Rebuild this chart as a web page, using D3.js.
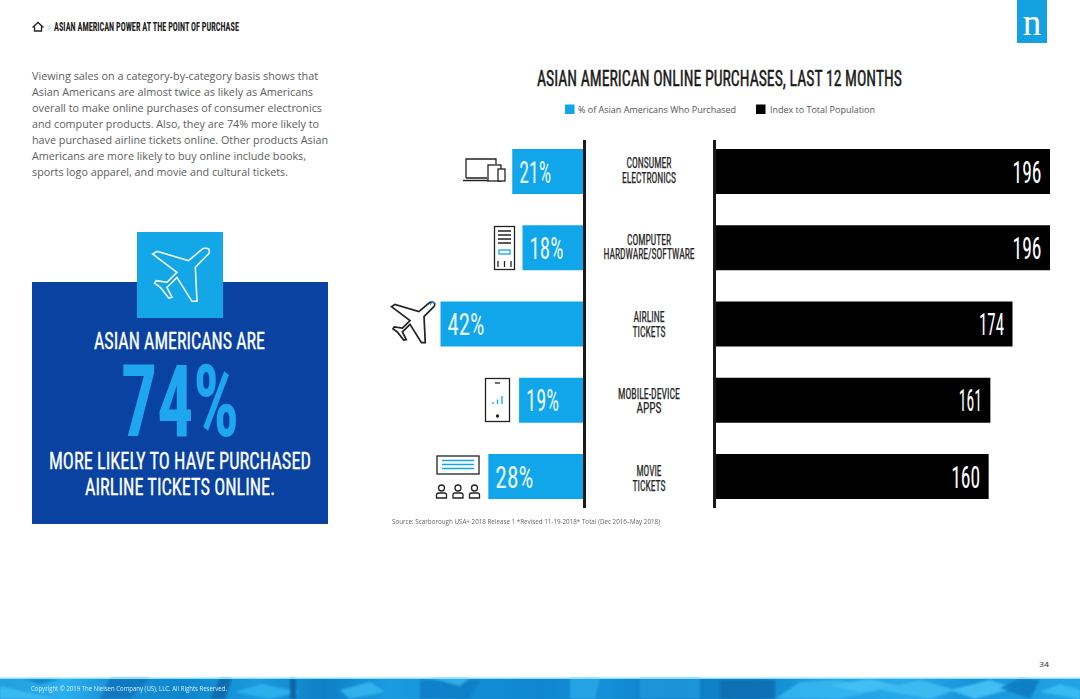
<!DOCTYPE html>
<html><head><meta charset="utf-8">
<script src="https://cdn.jsdelivr.net/npm/d3@7/dist/d3.min.js"></script>
<style>html,body{margin:0;padding:0;background:#fff;overflow:hidden}svg{display:block}</style>
</head><body><div id="chart"></div>
<script>
const categories = [["CONSUMER","ELECTRONICS"],["COMPUTER","HARDWARE/SOFTWARE"],["AIRLINE","TICKETS"],["MOBILE-DEVICE","APPS"],["MOVIE","TICKETS"]];
const categoryKeys = ["electronics","computer","airline","apps","movie"];
const purchasedPct = [21,18,42,19,28];
const indexToTotal = [196,196,174,161,160];
const legendLabels = ["% of Asian Americans Who Purchased","Index to Total Population"];
const bodyLines = [
 "Viewing sales on a category-by-category basis shows that",
 "Asian Americans are almost twice as likely as Americans",
 "overall to make online purchases of consumer electronics",
 "and computer products. Also, they are 74% more likely to",
 "have purchased airline tickets online. Other products Asian",
 "Americans are more likely to buy online include books,",
 "sports logo apparel, and movie and cultural tickets."];
const bodyWidths = [286,281,290,287,296,274,256];
const pctWidths = [32,34,37,33,38];
const idxWidths = [29,29,25,23,29];
const catWidths = [[45,54],[44,91],[31,33],[62,25],[25,33]];
const catOffsets = [19,19.5,20.5,21,22];

const W=1080,H=699, CYAN="#10a6e9", COND="'Liberation Sans Narrow','Roboto Condensed',Roboto,sans-serif", OPEN="'Open Sans',sans-serif", INK="#222";
const svg=d3.select("#chart").append("svg").attr("width",W).attr("height",H).attr("viewBox",[0,0,W,H]);
svg.append("rect").attr("width",W).attr("height",H).attr("fill","#fff");
const defs=svg.append("defs");
defs.append("filter").attr("id","soft").append("feGaussianBlur").attr("stdDeviation",0.8);
defs.append("filter").attr("id","txt").append("feGaussianBlur").attr("stdDeviation",0.3);

function fit(g,t,x,y,size,width,o={}){
  const e=g.append("text").text(t).attr("x",x).attr("y",y)
   .attr("font-family",o.family||COND).attr("font-size",size).attr("font-weight",o.weight||"normal")
   .attr("fill",o.fill||INK).attr("text-anchor","start")
   .attr("textLength",width).attr("lengthAdjust","spacingAndGlyphs");
  if(o.bold){e.attr("stroke",o.fill||INK).attr("stroke-width",o.bold);}
  return e;
}
const planePath="M0.5,4.8L4,2.6L29,10L40.5,0.3Q45.5,-0.5 45.5,2Q46,4 43.6,6L34.4,15.3L35.7,42.3L31.7,42.3L19.8,23.3L11.9,31.2L15.9,39.2L13.2,39.7L6.6,31.2L2.1,28L3.4,25.9L11.9,27.2L19.8,19.3Z";

// footer texture
const footer=svg.append("g");
const fg=defs.append("linearGradient").attr("id","fg");
[[0,"#1f9fe0"],[.06,"#2bb0ee"],[.1,"#1b93d6"],[.17,"#0f86cc"],[.24,"#1a9ade"],[.3,"#0d7fc6"],[.36,"#1a9ce0"],[.42,"#1491d8"],[.5,"#0f86cf"],[.56,"#1590d8"],[.62,"#0c7cc4"],[.7,"#0f86cd"],[.76,"#1e9fe2"],[.84,"#27a9ea"],[.9,"#1793da"],[1,"#22a5e6"]]
 .forEach(s=>fg.append("stop").attr("offset",s[0]).attr("stop-color",s[1]));
footer.append("rect").attr("x",0).attr("y",678).attr("width",W).attr("height",21).attr("fill","url(#fg)");
const cubes=[[0,686,25,692,55,699,0,699,"#3cbcf2"],[25,679,60,679,40,684,"#0f7fc4"],[110,678,150,678,130,699,100,699,"#0d76bb"],[220,678,232,678,225,699,210,699,"#0a68aa"],[235,692,262,684,300,692,270,699,"#2eb2ee"],[340,690,370,682,385,692,350,699,"#35b5ef"],
 [290,678,296,678,296,699,290,699,"#0b5f9e"],[420,680,480,680,470,699,420,699,"#0c7ec6"],[430,678,470,678,460,686,"#35b0ea"],
 [570,678,600,678,595,699,570,699,"#2aa5e6"],[640,678,700,678,700,699,640,699,"#1c96da"],[720,680,775,680,775,699,720,699,"#0a6db2"],
 [775,699,800,682,840,680,880,690,840,699,"#35b6f0"],[830,685,870,679,900,686,860,692,"#45c0f4"],[880,690,920,680,955,690,930,699,"#3dbcf2"],[950,690,990,680,1015,688,975,699,"#45c2f5"],[1000,688,1020,678,1040,680,1030,699,"#0e7cc2"],[1040,692,1060,684,1080,690,1080,699,"#3cbcf2"]];
footer.append("g").attr("filter","url(#soft)").selectAll("polygon").data(cubes).join("polygon").attr("points",d=>{const a=[];for(let i=0;i<d.length-1;i+=2)a.push(d[i]+","+d[i+1]);return a.join(" ");}).attr("fill",d=>d[d.length-1]).attr("opacity",.9);
footer.append("rect").attr("x",0).attr("y",677.5).attr("width",W).attr("height",1.5).attr("fill","#8fe3f7");
fit(footer,"Copyright © 2019 The Nielsen Company (US), LLC. All Rights Reserved.",31,690.5,6.5,196,{family:OPEN,fill:"#d6f0ff"}).attr("filter","url(#txt)");
fit(svg,"34",1039,666.5,7,10,{family:OPEN,fill:"#333"});

// header
const hd=svg.append("g");
hd.append("path").attr("d","M32.5,27.5L38,22.5L43.5,27.5M34.5,26.5V31H41.5V26.5").attr("fill","none").attr("stroke",INK).attr("stroke-width",1.3);
fit(hd,">",47,31,9,4,{family:OPEN,fill:"#5cc6d8"});
fit(hd,"ASIAN AMERICAN POWER AT THE POINT OF PURCHASE",54,31,12.5,185,{weight:"bold"});
svg.append("rect").attr("x",1017).attr("y",0).attr("width",30).attr("height",43).attr("fill","#14a1e2");
svg.append("text").text("n").attr("x",1032).attr("y",35).attr("text-anchor","middle").attr("font-family","'Liberation Serif',serif").attr("font-size",37).attr("fill","#fff");

// body text
const body=svg.append("g");
bodyLines.forEach((l,i)=>fit(body,l,32,80+i*16,11,bodyWidths[i],{family:OPEN,fill:"#5e5e5e"}));

// callout panel
const p=svg.append("g");
p.append("rect").attr("x",32).attr("y",282).attr("width",296).attr("height",242).attr("fill","#0a42a2");
p.append("rect").attr("x",137).attr("y",232).attr("width",86).attr("height",86).attr("fill","#14a7e8");
p.append("path").attr("d",planePath).attr("transform","translate(152,248) scale(1.26)").attr("fill","none").attr("stroke","#fff").attr("stroke-width",1.2);
fit(p,"ASIAN AMERICANS ARE",94,349,24,171,{fill:"#fff",bold:.3});
fit(p,"74%",121,436,100,118,{fill:"#1ea6ee",weight:"bold"});
fit(p,"MORE LIKELY TO HAVE PURCHASED",49,469,24,262,{fill:"#fff",bold:.3});
fit(p,"AIRLINE TICKETS ONLINE.",85,495,24,190,{fill:"#fff",bold:.3});

// title + legend
const t=svg.append("g");
fit(t,"ASIAN AMERICAN ONLINE PURCHASES, LAST 12 MONTHS",537,85.5,22,365,{fill:"#1a1a1a",bold:.45});
t.append("rect").attr("x",565).attr("y",104.5).attr("width",9.5).attr("height",9.5).attr("fill",CYAN);
fit(t,legendLabels[0],578,112.5,9,158,{family:OPEN,fill:"#555"});
t.append("rect").attr("x",756).attr("y",104.5).attr("width",9.5).attr("height",9.5).attr("fill","#000");
fit(t,legendLabels[1],770,112.5,9,105,{family:OPEN,fill:"#555"});

// scales
const y=d3.scaleBand().domain(categoryKeys).range([149,499]).paddingInner(0.41);
const xL=d3.scaleLinear().domain([0,42]).range([584,440.5]);
const xR=d3.scaleLinear().domain([0,196]).range([716,1050]);

const rows=categoryKeys.map((k,i)=>({k,i,pct:purchasedPct[i],idx:indexToTotal[i]}));
const chart=svg.append("g");
chart.selectAll("rect.pct").data(rows).join("rect").attr("class","pct")
 .attr("x",d=>xL(d.pct)).attr("y",d=>y(d.k)).attr("width",d=>xL(0)-xL(d.pct)).attr("height",y.bandwidth()).attr("fill",CYAN);
chart.selectAll("rect.idx").data(rows).join("rect").attr("class","idx")
 .attr("x",xR(0)).attr("y",d=>y(d.k)).attr("width",d=>xR(d.idx)-xR(0)).attr("height",y.bandwidth()).attr("fill","#000");
[584.5,714.5].forEach(x=>chart.append("rect").attr("x",x-1.5).attr("y",140).attr("width",3).attr("height",368).attr("fill","#1a1a1a"));

rows.forEach(d=>{
  const top=y(d.k), base=top+33.5;
  fit(chart,d.pct+"%",xL(d.pct)+7,base,31,pctWidths[d.i],{fill:"#e8f7ff"});
  fit(chart,String(d.idx),xR(d.idx)-8.5-idxWidths[d.i],base,31,idxWidths[d.i],{fill:"#fff"});
  categories[d.i].forEach((line,j)=>{
    fit(chart,line,649-catWidths[d.i][j]/2,top+catOffsets[d.i]+j*14.5,14,catWidths[d.i][j],{fill:"#262626",bold:.25});
  });
});

// icons
const ic=svg.append("g").attr("fill","none").attr("stroke",INK).attr("stroke-width",1.3);
// laptop + tablet + phone
ic.append("path").attr("d","M466,178V159H496V164M463,180.5H488M466,178H487");
ic.append("rect").attr("x",488).attr("y",165).attr("width",13).attr("height",16).attr("fill","#fff");
ic.append("rect").attr("x",498).attr("y",169).attr("width",7).attr("height",12).attr("fill","#fff");
// server tower
ic.append("rect").attr("x",494.5).attr("y",226.5).attr("width",20).attr("height",43);
ic.append("path").attr("d","M498,231H511M498,235H511M498,239H511M498,243H511M498,261V267M504.5,261V267M511,261V267");
ic.append("rect").attr("x",499).attr("y",250).attr("width",11).attr("height",4).attr("stroke",CYAN);
// plane
ic.append("path").attr("d",planePath).attr("transform","translate(391,302) scale(0.96)").attr("stroke-width",1.8);
ic.append("path").attr("d","M430,305Q432,301 435,303").attr("stroke",CYAN);
// phone
ic.append("rect").attr("x",485.5).attr("y",378.5).attr("width",24).attr("height",43);
ic.append("path").attr("d","M495,383H500");
ic.append("circle").attr("cx",497.5).attr("cy",416).attr("r",1).attr("fill",INK);
ic.append("path").attr("d","M493,404V402M497.5,404V399.5M502,404V396").attr("stroke",CYAN);
// screen + audience
ic.append("rect").attr("x",437).attr("y",456).attr("width",42).attr("height",18);
ic.append("path").attr("d","M442,460.5H474M442,464.5H474M442,468.5H474").attr("stroke",CYAN);
[441.5,458,474.5].forEach(cx=>{
  ic.append("circle").attr("cx",cx).attr("cy",488).attr("r",3);
  ic.append("path").attr("d",`M${cx-5},498V495Q${cx-5},493 ${cx-3},493H${cx+3}Q${cx+5},493 ${cx+5},495V498Z`);
});

// source
fit(svg,"Source: Scarborough USA+ 2018 Release 1 *Revised 11-19-2018* Total (Dec 2016–May 2018)",392,524,6.5,268,{family:OPEN,fill:"#666"}).attr("filter","url(#txt)");
</script></body></html>
